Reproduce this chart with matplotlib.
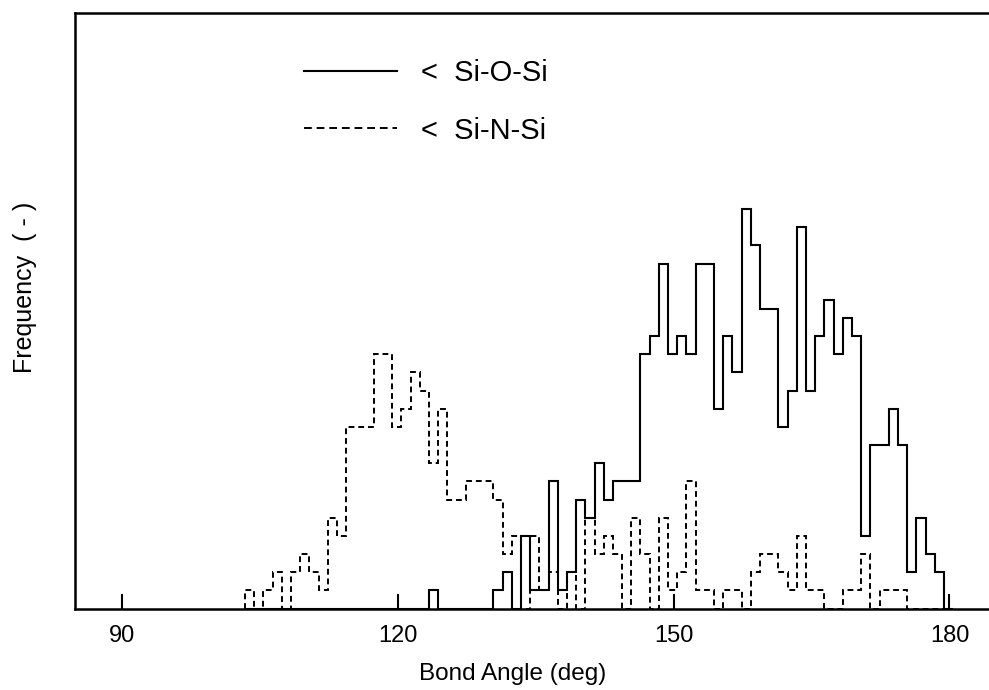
import matplotlib
matplotlib.use('Agg')
import matplotlib.pyplot as plt
import numpy as np

# bond angle bins, 1 deg wide, labelled by their lower degree
angle_lo = np.arange(103, 180)

si_o_si = [0, 0, 0, 0, 0, 0, 0, 0, 0, 0,
           0, 0, 0, 0, 0, 0, 0, 0, 0, 0,
           1, 0, 0, 0, 0, 0, 0, 1, 2, 0,
           4, 1, 1, 7, 1, 2, 6, 5, 8, 6,
           7, 7, 7, 14, 15, 19, 14, 15, 14, 19,
           19, 11, 15, 13, 22, 20, 16.5, 16.5, 10, 12,
           21, 12, 15, 17, 14, 16, 15, 4, 9, 9,
           11, 9, 2, 5, 3, 2, 0]

si_n_si = [1, 0, 1, 2, 0, 2, 3, 2, 1, 5,
           4, 10, 10, 10, 14, 14, 10, 11, 13, 12,
           8, 11, 6, 6, 7, 7, 7, 6, 3, 4,
           0, 4, 1, 2, 0, 2, 0, 5, 3, 4,
           3, 0, 5, 3, 0, 5, 1, 2, 7, 1,
           1, 0, 1, 1, 0, 2, 3, 3, 2, 1,
           4, 1, 1, 0, 0, 1, 1, 3, 0, 1,
           1, 1, 0, 0, 0, 0, 0]

labels = ['<  Si-O-Si', '<  Si-N-Si']
xticks = [90, 120, 150, 180]

plt.rcParams['font.family'] = ['Liberation Sans', 'DejaVu Sans']

fig = plt.figure(figsize=(9.89, 6.9), dpi=100)
ax = fig.add_axes([0.0758, 0.1181, 0.9242, 0.8631])

edges = np.append(angle_lo, angle_lo[-1] + 1) + 0.4
ax.stairs(si_o_si, edges, color='black', linewidth=1.5, label=labels[0])
ax.stairs(si_n_si, edges, color='black', linewidth=1.4,
          linestyle=(0, (3, 2)), label=labels[1])

ax.set_xlim(84.9, 184.3)
ax.set_ylim(0, 32.8)

ax.set_xticks(xticks)
ax.tick_params(axis='x', direction='in', length=11, width=1.5,
               labelsize=17, pad=12)
ax.set_yticks([])

for side in ['left', 'top', 'bottom']:
    ax.spines[side].set_linewidth(1.8)
ax.spines['right'].set_visible(False)

ax.set_xlabel('Bond Angle (deg)', fontsize=17.5)
ax.xaxis.set_label_coords(0.479, -0.091)
ax.set_ylabel('Frequency  ( - )', fontsize=18)
ax.yaxis.set_label_coords(-0.041, 0.54)

leg = ax.legend(loc='upper left', bbox_to_anchor=(0.2505, 0.9226),
                frameon=False, fontsize=21, handlelength=3.2,
                handletextpad=0.8, labelspacing=1.01, borderpad=0,
                borderaxespad=0)
leg.get_lines()[1].set_linestyle((0, (4, 2.5)))

fig.savefig('out.png', dpi=100)
